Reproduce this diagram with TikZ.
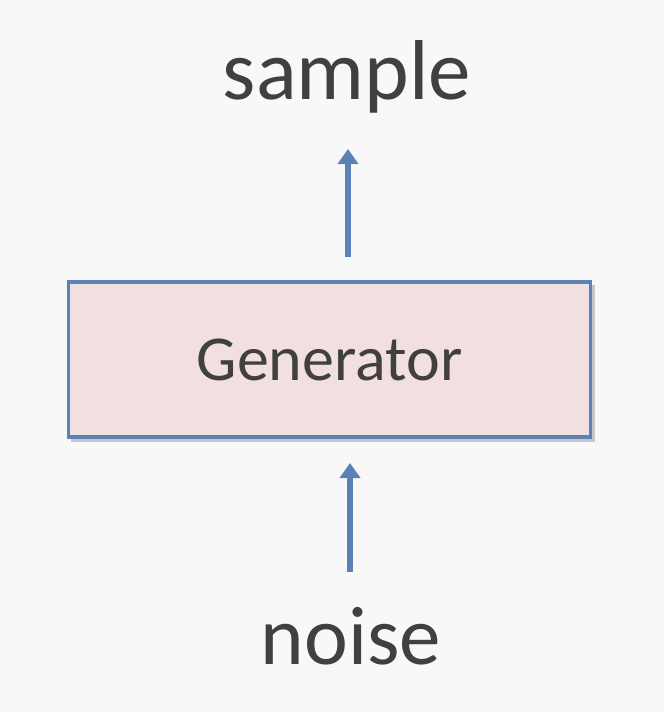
\documentclass[tikz,border=0pt]{standalone}
\usepackage{fontspec}
\setmainfont{Carlito}
\usetikzlibrary{arrows.meta}
\definecolor{bgcol}{HTML}{F8F8F8}
\definecolor{boxfill}{HTML}{F2E0E1}
\definecolor{boxline}{HTML}{5A82B6}
\definecolor{txtcol}{HTML}{404040}

\begin{document}
\begin{tikzpicture}[
            x=1pt, y=-1pt,
            every node/.style={text=txtcol},
            flow/.style={draw=boxline, line width=6pt, -{Triangle[length=15pt,width=20pt]}},
            genbox/.style={draw=boxline, line width=3.5pt, fill=boxfill, minimum width=522pt, minimum height=155pt}
            ]
            \fill[bgcol] (0,0) rectangle (664,712);
            \fill[black!22] (71,285) rectangle (595,442);
            \node[genbox] (gen) at (329.5,359.5) {\fontsize{64}{70}\selectfont Generator};
            \node (sample) at (347,77) {\fontsize{85}{90}\selectfont sample};
            \node (noise) at (351,636) {\fontsize{83}{90}\selectfont noise};
            \coordinate (s1) at (348,257);
            \coordinate (s2) at (348,149);
            \coordinate (n1) at (350,572);
            \coordinate (n2) at (350,463);
            \draw[flow] (s1) -- (s2);
            \draw[flow] (n1) -- (n2);
        \end{tikzpicture}
\end{document}
